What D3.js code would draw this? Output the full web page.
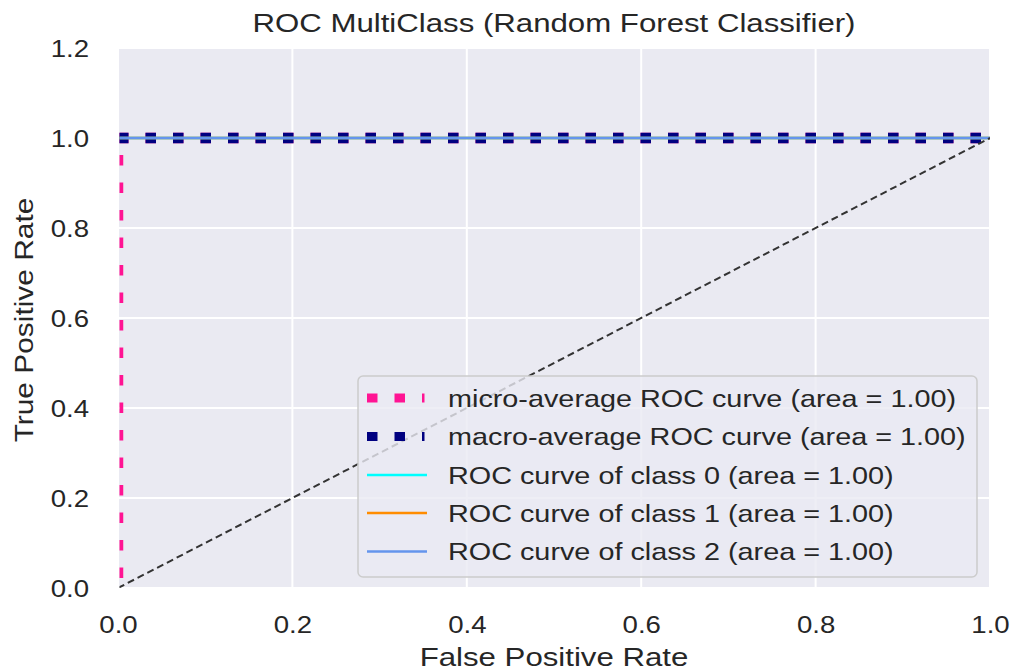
<!DOCTYPE html>
<html>
<head>
<meta charset="utf-8">
<script src="https://cdn.jsdelivr.net/npm/d3@7"></script>
<style>
  html, body { margin: 0; padding: 0; background: #ffffff; }
  svg { display: block; }
  text { font-family: "Liberation Sans", Arial, sans-serif; fill: #262626; }
</style>
</head>
<body>
<svg id="chart" width="1011" height="671"></svg>
<script>
// ---- data ----
const title = "ROC MultiClass (Random Forest Classifier)";
const xLabel = "False Positive Rate";
const yLabel = "True Positive Rate";
const xTicks = [0.0, 0.2, 0.4, 0.6, 0.8, 1.0];
const yTicks = [0.0, 0.2, 0.4, 0.6, 0.8, 1.0, 1.2];

const microFpr = [0.0, 0.0, 1.0];
const microTpr = [0.0, 1.0, 1.0];
const macroFpr = [0.0, 1.0];
const macroTpr = [1.0, 1.0];
const class0Fpr = [0.0, 1.0];
const class0Tpr = [1.0, 1.0];
const class1Fpr = [0.0, 1.0];
const class1Tpr = [1.0, 1.0];
const class2Fpr = [0.0, 1.0];
const class2Tpr = [1.0, 1.0];
const chanceFpr = [0.0, 1.0];
const chanceTpr = [0.0, 1.0];

const legendLabels = [
  "micro-average ROC curve (area = 1.00)",
  "macro-average ROC curve (area = 1.00)",
  "ROC curve of class 0 (area = 1.00)",
  "ROC curve of class 1 (area = 1.00)",
  "ROC curve of class 2 (area = 1.00)"
];

// ---- layout ----
const L = 118, R = 990, T = 48, B = 588;
const SX = 1.2; // horizontal glyph stretch of the reference text
const svg = d3.select("#chart");
const x = d3.scaleLinear().domain([0, 1]).range([L, R]);
const y = d3.scaleLinear().domain([0, 1.2]).range([B, T]);

const DOT = 10.5, GAP = 17, PER = DOT + GAP;

svg.append("defs").append("clipPath").attr("id", "clip")
  .append("rect").attr("x", L + 1.5).attr("y", T).attr("width", R - L - 1.5).attr("height", B - T);

// background
svg.append("rect").attr("x", L).attr("y", T).attr("width", R - L).attr("height", B - T)
  .attr("fill", "#EAEAF2");

// grid
svg.append("g").selectAll("line").data(xTicks).join("line")
  .attr("x1", d => x(d)).attr("x2", d => x(d)).attr("y1", T).attr("y2", B)
  .attr("stroke", "#ffffff").attr("stroke-width", 2);
svg.append("g").selectAll("line").data(yTicks).join("line")
  .attr("x1", L).attr("x2", R).attr("y1", d => y(d)).attr("y2", d => y(d))
  .attr("stroke", "#ffffff").attr("stroke-width", 2);

// axes (tick labels only)
const xAxis = svg.append("g").attr("transform", `translate(0,${B})`)
  .call(d3.axisBottom(x).tickValues(xTicks).tickFormat(d3.format(".1f")).tickSize(0).tickPadding(0));
xAxis.select(".domain").remove();
xAxis.selectAll("text").attr("y", 45).attr("dy", null)
  .attr("font-size", "23px").attr("fill", "#262626")
  .attr("font-family", "Liberation Sans, Arial, sans-serif")
  .attr("transform", `scale(${SX},1)`);

const yAxis = svg.append("g").attr("transform", `translate(${L},0)`)
  .call(d3.axisLeft(y).tickValues(yTicks).tickFormat(d3.format(".1f")).tickSize(0).tickPadding(0));
yAxis.select(".domain").remove();
yAxis.selectAll("text").attr("x", -29 / SX).attr("dy", "8.5px")
  .attr("font-size", "23px").attr("fill", "#262626")
  .attr("font-family", "Liberation Sans, Arial, sans-serif")
  .attr("transform", `scale(${SX},1)`);

// lines
const line = d3.line().x(d => x(d[0])).y(d => y(d[1]));
const zipPts = (a, b) => a.map((v, i) => [v, b[i]]);
const plot = svg.append("g").attr("clip-path", "url(#clip)");

const vertLen = y(0) - y(1);
const microOffset = (PER - (vertLen % PER)) % PER;

const series = [
  { pts: zipPts(microFpr, microTpr), color: "#FF1493", w: DOT, dash: `${DOT},${GAP}`, off: microOffset },
  { pts: zipPts(macroFpr, macroTpr), color: "#000080", w: DOT, dash: `${DOT},${GAP}`, off: 0 },
  { pts: zipPts(class0Fpr, class0Tpr), color: "#00FFFF", w: 2.6, dash: null, off: 0 },
  { pts: zipPts(class1Fpr, class1Tpr), color: "#FF8C00", w: 2.6, dash: null, off: 0 },
  { pts: zipPts(class2Fpr, class2Tpr), color: "#6495ED", w: 2.6, dash: null, off: 0 }
];
series.forEach(s => {
  plot.append("path").datum(s.pts).attr("d", line)
    .attr("fill", "none").attr("stroke", s.color).attr("stroke-width", s.w)
    .attr("stroke-dasharray", s.dash).attr("stroke-dashoffset", s.off)
    .attr("stroke-linecap", "butt").attr("stroke-linejoin", "miter");
});
plot.append("path").datum(zipPts(chanceFpr, chanceTpr)).attr("d", line)
  .attr("fill", "none").attr("stroke", "#333333").attr("stroke-width", 2)
  .attr("stroke-dasharray", "7,4");

// title & labels
svg.append("text").attr("transform", `translate(${(L + R) / 2},32) scale(${SX},1)`)
  .attr("text-anchor", "middle").attr("font-size", "26px").text(title);
svg.append("text").attr("transform", `translate(${(L + R) / 2},666) scale(${SX},1)`)
  .attr("text-anchor", "middle").attr("font-size", "26px").text(xLabel);
svg.append("text").attr("transform", `translate(33,${(T + B) / 2 + 2}) rotate(-90) scale(1.15,1)`)
  .attr("text-anchor", "middle").attr("font-size", "26px").text(yLabel);

// legend
const lg = svg.append("g");
lg.append("rect").attr("x", 358).attr("y", 376).attr("width", 977 - 358).attr("height", 577 - 376)
  .attr("rx", 5).attr("fill", "#EAEAF2").attr("fill-opacity", 0.8)
  .attr("stroke", "#CCCCCC").attr("stroke-width", 1.5);
const rowY = [398, 436.5, 475, 513, 551.5];
legendLabels.forEach((lab, i) => {
  const s = series[i];
  lg.append("line").attr("x1", 367).attr("x2", s.dash ? 424.5 : 427).attr("y1", rowY[i]).attr("y2", rowY[i])
    .attr("stroke", s.color).attr("stroke-width", s.dash ? 9 : s.w)
    .attr("stroke-dasharray", s.dash);
  lg.append("text").attr("transform", `translate(448,${rowY[i] + 8.5}) scale(${SX},1)`)
    .attr("font-size", "24px").text(lab);
});
</script>
</body>
</html>
